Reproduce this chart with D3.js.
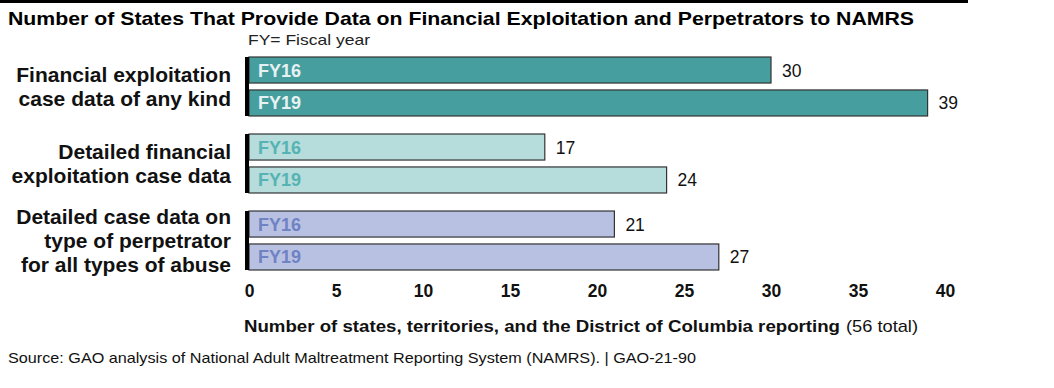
<!DOCTYPE html>
<html>
<head>
<meta charset="utf-8">
<script src="https://cdn.jsdelivr.net/npm/d3@7"></script>
<style>
  body { margin: 0; background: #fff; }
  text { font-family: "Liberation Sans", Arial, sans-serif; }
</style>
</head>
<body>
<div id="chart"></div>
<script>
var categories = [
    ["Financial exploitation", "case data of any kind"],
    ["Detailed financial", "exploitation case data"],
    ["Detailed case data on", "type of perpetrator", "for all types of abuse"]
];
var years = ["FY16", "FY19"];
var fy16 = [30, 17, 21];
var fy19 = [39, 24, 27];
var xTicks = [0, 5, 10, 15, 20, 25, 30, 35, 40];

var fills = ["#479e9f", "#b6dcdc", "#b8c1e1"];
var labelColors = ["#e6f2f2", "#55b3b3", "#6f82c4"];

var width = 1054, height = 388;
var svg = d3.select("#chart")
  .append("svg")
    .attr("width", width)
    .attr("height", height);

// top rule + title
svg.append("rect")
    .attr("x", 0).attr("y", 0)
    .attr("width", 968).attr("height", 3)
    .style("fill", "#000");

svg.append("text")
    .attr("x", 8).attr("y", 25)
    .style("font-size", "19px")
    .style("font-weight", "bold")
    .attr("textLength", 906)
    .attr("lengthAdjust", "spacingAndGlyphs")
    .text("Number of States That Provide Data on Financial Exploitation and Perpetrators to NAMRS");

svg.append("text")
    .attr("x", 248).attr("y", 45)
    .style("font-size", "14.5px")
    .style("fill", "#222")
    .attr("textLength", 122)
    .attr("lengthAdjust", "spacingAndGlyphs")
    .text("FY= Fiscal year");

var x = d3.scaleLinear()
    .domain([0, 40])
    .range([249, 945]);

var group = d3.scaleBand()
    .domain(d3.range(categories.length))
    .range([57, 270])
    .paddingInner(0.234)
    .paddingOuter(0);

var inner = d3.scaleBand()
    .domain(years)
    .range([0, group.bandwidth()])
    .paddingInner(0.21);

categories.forEach(function (lines, i) {
    var g = svg.append("g")
        .attr("transform", "translate(0," + group(i) + ")");
    var vals = [fy16[i], fy19[i]];

    vals.forEach(function (v, j) {
        var yr = years[j];
        g.append("rect")
            .attr("x", x(0))
            .attr("y", inner(yr))
            .attr("width", x(v) - x(0))
            .attr("height", inner.bandwidth())
            .style("fill", fills[i])
            .style("stroke", "#333")
            .style("stroke-width", 1.2);

        g.append("text")
            .attr("x", x(0) + 9)
            .attr("y", inner(yr) + inner.bandwidth() / 2 + 6.5)
            .style("font-size", "18px")
            .style("font-weight", "bold")
            .style("fill", labelColors[i])
            .text(yr);

        g.append("text")
            .attr("x", x(v) + 11)
            .attr("y", inner(yr) + inner.bandwidth() / 2 + 6.5)
            .style("font-size", "17.5px")
            .style("fill", "#111")
            .text(v);
    });

    // thick black baseline
    g.append("rect")
        .attr("x", x(0) - 4)
        .attr("y", 0)
        .attr("width", 4)
        .attr("height", group.bandwidth())
        .style("fill", "#000");

    // category label
    var lh = 24.5;
    var cy = group.bandwidth() / 2;
    var startY = cy - (lines.length - 1) * lh / 2 + 7.5;
    var t = g.append("text")
        .attr("text-anchor", "end")
        .style("font-size", "21px")
        .style("font-weight", "bold")
        .style("fill", "#111");
    lines.forEach(function (l, k) {
        t.append("tspan")
            .attr("x", 231)
            .attr("y", startY + k * lh)
            .text(l);
    });
});

// x axis (labels only)
var axis = svg.append("g")
    .attr("transform", "translate(0,283)")
    .call(d3.axisBottom(x).tickValues(xTicks).tickSize(0).tickPadding(2));
axis.select(".domain").remove();
axis.selectAll("text")
    .style("font-family", "'Liberation Sans', Arial, sans-serif")
    .style("font-size", "17.5px")
    .style("font-weight", "bold")
    .style("fill", "#111");

svg.append("text")
    .attr("x", 244).attr("y", 332)
    .style("font-size", "17px")
    .style("font-weight", "bold")
    .style("fill", "#111")
    .attr("textLength", 596)
    .attr("lengthAdjust", "spacingAndGlyphs")
    .text("Number of states, territories, and the District of Columbia reporting");

svg.append("text")
    .attr("x", 846).attr("y", 332)
    .style("font-size", "17px")
    .style("fill", "#111")
    .attr("textLength", 72)
    .attr("lengthAdjust", "spacingAndGlyphs")
    .text("(56 total)");

svg.append("text")
    .attr("x", 8).attr("y", 363)
    .style("font-size", "15px")
    .style("fill", "#111")
    .attr("textLength", 688)
    .attr("lengthAdjust", "spacingAndGlyphs")
    .text("Source: GAO analysis of National Adult Maltreatment Reporting System (NAMRS).  |  GAO-21-90");
</script>
</body>
</html>
